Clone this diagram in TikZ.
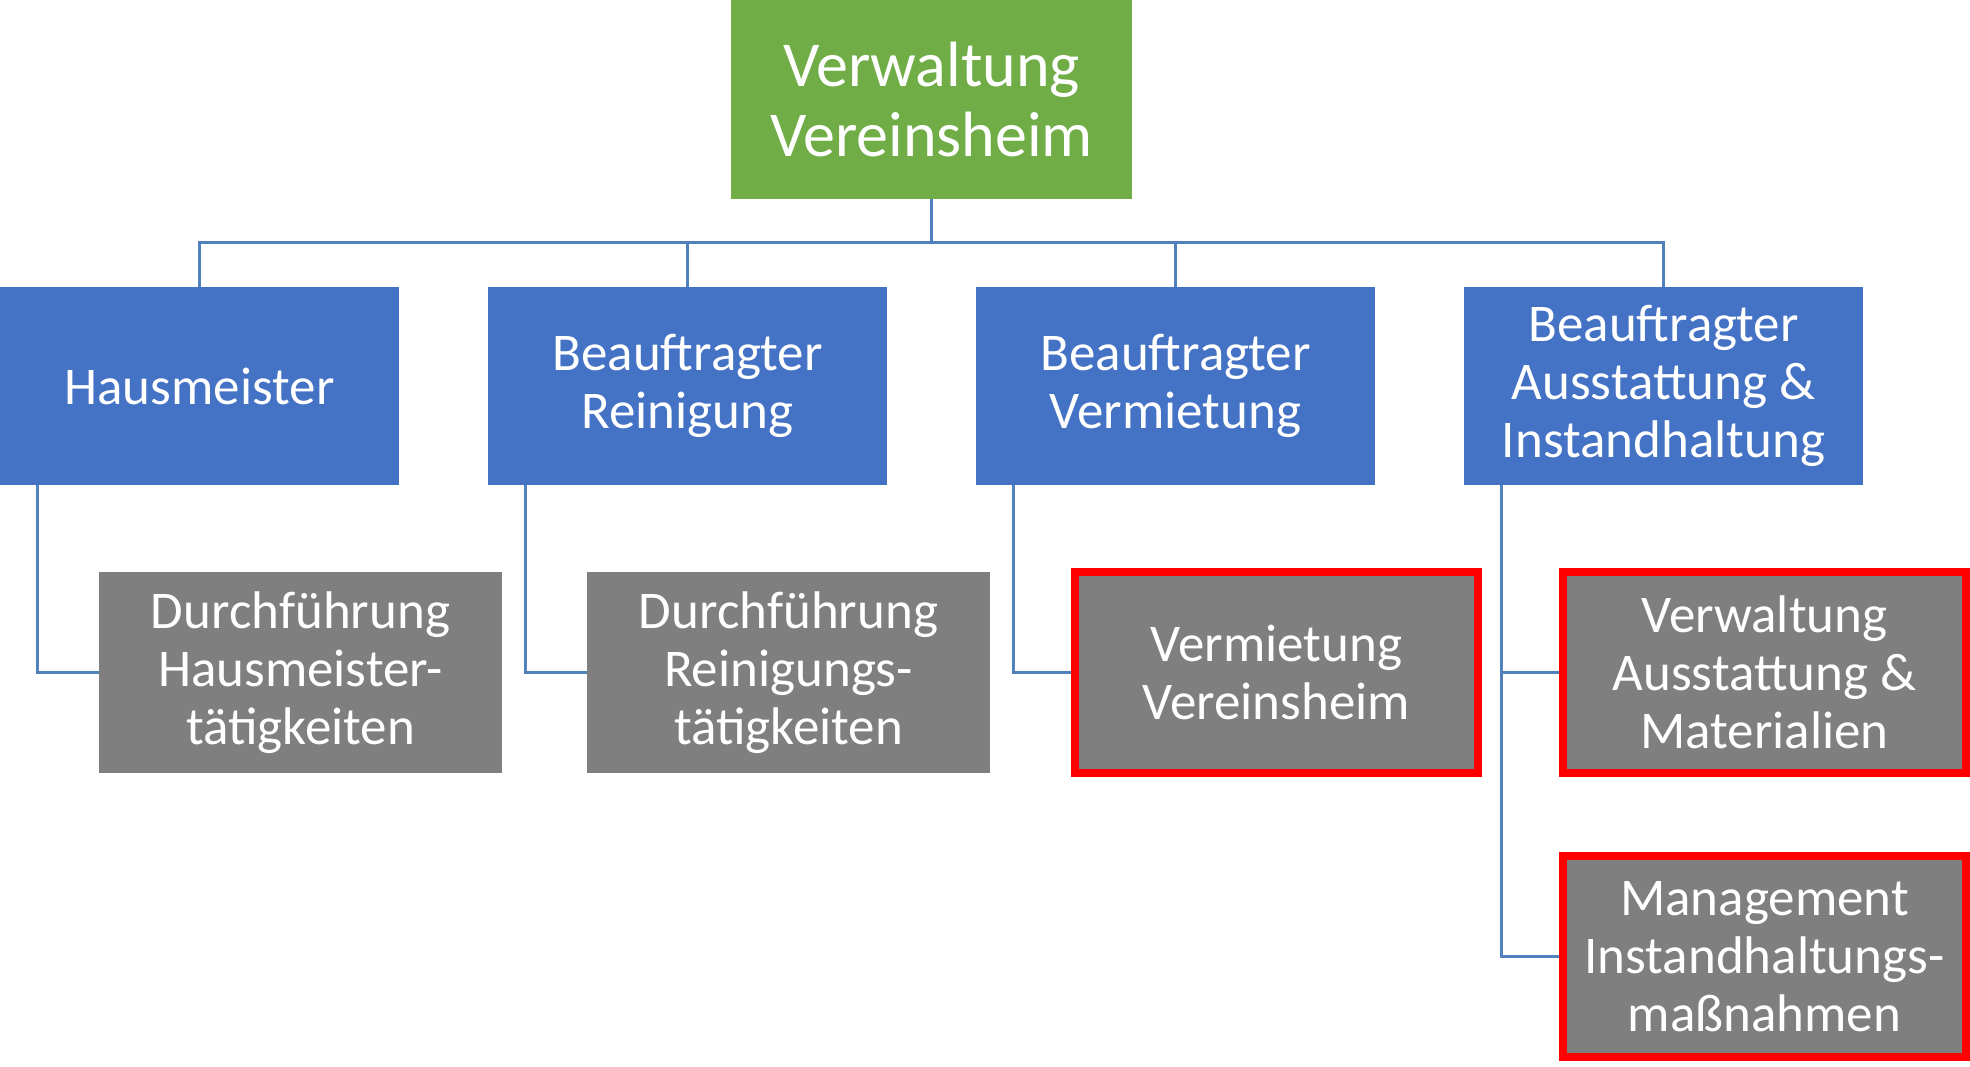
\documentclass[tikz,border=0pt]{standalone}
\usepackage{fontspec}
\setmainfont{Carlito}
\definecolor{leadgreen}{RGB}{112,173,71}
\definecolor{unitblue}{RGB}{68,114,196}
\definecolor{taskgray}{RGB}{127,127,127}
\definecolor{linkblue}{RGB}{80,128,190}
\tikzset{
  lead/.style={rectangle, fill=leadgreen, text=white, align=center, inner sep=0, minimum width=401, minimum height=199, font=\fontsize{64}{70}\selectfont},
  unit/.style={rectangle, fill=unitblue, text=white, align=center, inner sep=0, minimum width=399, minimum height=198, font=\fontsize{53}{58}\selectfont},
  task/.style={rectangle, fill=taskgray, text=white, align=center, inner sep=0, minimum width=403, minimum height=201, font=\fontsize{53}{58}\selectfont},
  marked/.style={task, draw=red, line width=8pt},
  link/.style={draw=linkblue, line width=3pt}
}
\begin{document}
\begin{tikzpicture}[x=1pt,y=-1pt]
\useasboundingbox (0,0) rectangle (1970,1067);
% Leitung
\node [lead] (vw) at (931.5,99.5) {Verwaltung\\Vereinsheim};
% Beauftragte
\node [unit] (hm) at (199.5,386) {Hausmeister};
\node [unit] (rg) at (687.5,386) {Beauftragter\\Reinigung};
\node [unit] (vm) at (1175.5,386) {Beauftragter\\Vermietung};
\node [unit] (ai) at (1663.5,386) {Beauftragter\\Ausstattung \&\\Instandhaltung};
% Aufgaben
\node [task] (hmt) at (300.5,672.5) {Durchführung\\Hausmeister-\\tätigkeiten};
\node [task] (rgt) at (788.5,672.5) {Durchführung\\Reinigungs-\\tätigkeiten};
\node [marked] (vmt) at (1276.5,672.5) {Vermietung\\Vereinsheim};
\node [marked] (ait) at (1764.5,672.5) {Verwaltung\\Ausstattung \&\\Materialien};
\node [marked] (aim) at (1764.5,956.5) {Management\\Instandhaltungs-\\maßnahmen};
% Verbindungen
\coordinate (bus) at (931.5,243);
\foreach \u in {hm,rg,vm,ai}
  \draw [link] (vw.south) -- (bus) -| (\u.north);
\draw [link] ([xshift=38]hm.south west) |- (hmt.west);
\draw [link] ([xshift=38]rg.south west) |- (rgt.west);
\draw [link] ([xshift=38]vm.south west) |- (vmt.west);
\draw [link] ([xshift=38]ai.south west) |- (ait.west);
\draw [link] ([xshift=38]ai.south west) |- (aim.west);
\end{tikzpicture}
\end{document}
